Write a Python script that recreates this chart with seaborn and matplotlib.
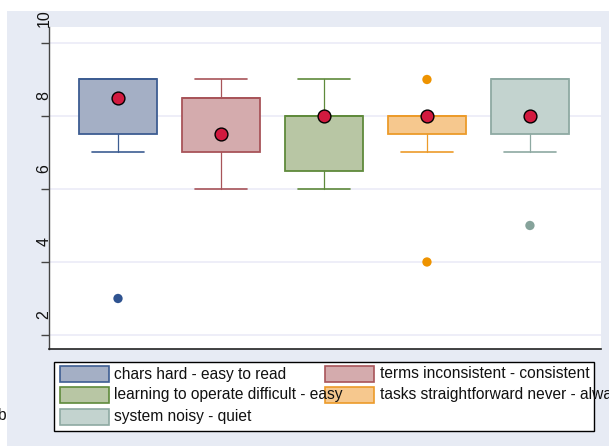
"""
Usability rating box plots (Stata-style look) redrawn with seaborn/matplotlib.
"""
import numpy as np
import pandas as pd
import matplotlib
matplotlib.use("Agg")
import matplotlib.pyplot as plt
import seaborn as sns
from matplotlib.patches import Rectangle
from matplotlib.transforms import ScaledTranslation, blended_transform_factory

# ---- data ----
items = [
    "chars hard - easy to read",
    "terms inconsistent - consistent",
    "learning to operate difficult - easy",
    "tasks straightforward never - always",
    "system noisy - quiet",
]
q1 = [7.5, 7.0, 6.5, 7.5, 7.5]
q3 = [9.0, 8.5, 8.0, 8.0, 9.0]
median = [9.0, 8.5, 8.0, 8.0, 9.0]
whis_lo = [7.0, 6.0, 6.0, 7.0, 7.0]
whis_hi = [9.0, 9.0, 9.0, 8.0, 9.0]
means = [8.5, 7.5, 8.0, 8.0, 8.0]
outliers = [[3.0], [], [], [9.0, 4.0], [5.0]]
yticks = [2, 4, 6, 8, 10]

fills = ["#a4afc5", "#d4abad", "#b8c6a4", "#f6c88e", "#c3d3cf"]
edges = ["#3d5d92", "#a85459", "#5f8a3b", "#ec9b2a", "#8ea9a2"]
flier_cols = ["#2f5390", "#a85459", "#5f8a3b", "#ee9300", "#86a39b"]
BG = "#e7ebf4"

sns.set_theme(style="white")
plt.rcParams["font.family"] = ["Liberation Sans", "DejaVu Sans"]

W, H = 609, 446
fig = plt.figure(figsize=(W / 100, H / 100), dpi=100, facecolor="white")


def px(x0, y0, x1, y1):
    """pixel box (top-left origin) -> figure fraction rect"""
    return [x0 / W, 1 - y1 / H, (x1 - x0) / W, (y1 - y0) / H]


# outer light-blue graph region
fig.patches.append(Rectangle((7 / W, 0), 1, 1 - 11 / H, transform=fig.transFigure,
                             facecolor=BG, edgecolor="none", zorder=-5))

ax = fig.add_axes(px(49, 27, 601, 349))
ax.set_zorder(2)
ax.set_facecolor("white")

pos = np.arange(len(items))
for i in pos:
    stats = [{
        "med": median[i], "q1": q1[i], "q3": q3[i],
        "whislo": whis_lo[i], "whishi": whis_hi[i], "fliers": [],
    }]
    ax.bxp(stats, positions=[i], widths=0.75, capwidths=0.5, patch_artist=True,
           showfliers=False,
           boxprops=dict(facecolor=fills[i], edgecolor=edges[i], linewidth=1.3),
           whiskerprops=dict(color=edges[i], linewidth=0.9),
           capprops=dict(color=edges[i], linewidth=1.2),
           medianprops=dict(color=edges[i], linewidth=1.3))

fl = pd.DataFrame([(i, v) for i in pos for v in outliers[i]], columns=["pos", "val"])
sns.scatterplot(data=fl, x="pos", y="val", hue="pos",
                palette={i: flier_cols[i] for i in pos}, s=45, edgecolor="none",
                legend=False, ax=ax, zorder=3)

mdf = pd.DataFrame({"pos": pos, "mean": means})
sns.scatterplot(data=mdf, x="pos", y="mean", color="#d21a3f", s=85,
                edgecolor="black", linewidth=1.0, legend=False, ax=ax, zorder=4)

ax.set_xlim(-0.67, 4.69)
ax.set_ylim(1.616, 10.438)
ax.set_xticks([])
ax.set_yticks(yticks)
ax.set_yticklabels([])
ax.set_xlabel("")
ax.set_ylabel("")
ax.grid(axis="y", color="#eeeef8", linewidth=1.4)
ax.set_axisbelow(True)
for s in ["top", "right"]:
    ax.spines[s].set_visible(False)
ax.spines["left"].set_color("#444444")
ax.spines["bottom"].set_color("#222222")
ax.spines["left"].set_linewidth(1.0)
ax.spines["bottom"].set_linewidth(1.2)
ax.tick_params(axis="y", left=True, length=6, width=1.0, color="#444444", direction="out")

# rotated y labels sitting above their ticks
tr = blended_transform_factory(ax.transAxes, ax.transData) + \
    ScaledTranslation(-5 / 100, 16 / 100, fig.dpi_scale_trans)
for t in yticks:
    ax.text(0, t, str(t), rotation=90, ha="center", va="bottom", fontsize=11.5,
            color="#111111", transform=tr, clip_on=False)

# legend drawn by hand (entries overlap like in the original)
fig.patches.append(Rectangle((54 / W, 1 - 431 / H), 540 / W, 69 / H,
                             transform=fig.transFigure, facecolor="white",
                             edgecolor="black", linewidth=1.0, zorder=1))
col_patch = [60, 325]
col_text = [114, 380]
row_y = [374, 395, 417]
for k, lab in enumerate(items):
    r, c = divmod(k, 2)
    yc = row_y[r]
    fig.patches.append(Rectangle((col_patch[c] / W, 1 - (yc + 8) / H), 49 / W, 16 / H,
                                 transform=fig.transFigure, facecolor=fills[k],
                                 edgecolor=edges[k], linewidth=1.2, zorder=2))
    fig.text(col_text[c] / W, 1 - yc / H, lab, ha="left", va="center",
             fontsize=11.2, color="#111111", zorder=5)

fig.text(-3 / W, 1 - 415 / H, "b", ha="left", va="center", fontsize=11.2, color="#111111")

fig.savefig("out.png", dpi=100, facecolor="white")
